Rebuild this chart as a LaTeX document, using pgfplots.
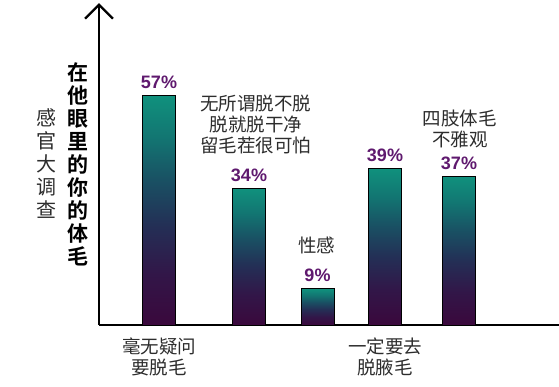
\documentclass[border=0pt]{standalone}
\usepackage{pgfplots}
\pgfplotsset{compat=1.18}
\usetikzlibrary{arrows.meta}
\usepackage{fontspec}
\setmainfont{Liberation Sans}
\newfontfamily\cjk{Noto Sans CJK SC}
\newfontfamily\cjkb{Noto Sans CJK SC Bold}
\definecolor{vlab}{RGB}{95,25,110}
\definecolor{gtxt}{RGB}{45,45,45}
\pgfdeclareverticalshading{barshade}{100bp}{%
  color(0bp)=(rgb,255:red,58;green,8;blue,60);
  color(25bp)=(rgb,255:red,58;green,8;blue,60);
  color(36bp)=(rgb,255:red,50;green,22;blue,72);
  color(47bp)=(rgb,255:red,35;green,48;blue,86);
  color(57bp)=(rgb,255:red,25;green,82;blue,100);
  color(66bp)=(rgb,255:red,18;green,118;blue,114);
  color(75bp)=(rgb,255:red,16;green,145;blue,125);
  color(100bp)=(rgb,255:red,16;green,145;blue,125)}
\begin{document}
\begin{tikzpicture}
\useasboundingbox (-99bp,-62bp) rectangle (460bp,325bp);
\begin{axis}[
  scale only axis,
  width=460bp, height=322bp,
  xmin=0, xmax=460, ymin=0, ymax=80,
  axis lines=left,
  axis line style={line width=2.3bp, black},
  x axis line style={-},
  y axis line style={-{Straight Barb[length=14bp,width=28bp,line width=2.3bp]}},
  ytick=\empty,
  xtick={60,286},
  xticklabels={{毫无疑问\\要脱毛},{一定要去\\脱腋毛}},
  major tick length=0pt,
  xticklabel style={font=\cjk\fontsize{18.5bp}{21bp}\selectfont, text=gtxt, align=center, yshift=-9bp},
  clip=false,
  /pgf/number format/assume math mode=true,
  mybar/.style={ybar, bar width=33, bar shift=0pt, draw=black, line width=0.8bp, shading=barshade,
    nodes near coords={\pgfmathprintnumber{\pgfplotspointmeta}\%},
    nodes near coords style={font=\bfseries\fontsize{18bp}{20bp}\selectfont, text=vlab, anchor=south, yshift=3bp}},
]
\addplot[mybar] coordinates {(60,57)};
\addplot[mybar] coordinates {(150,34)};
\addplot[mybar] coordinates {(218.5,9)};
\addplot[mybar] coordinates {(286,39)};
\addplot[mybar] coordinates {(360,37)};
\end{axis}
\begin{axis}[
  scale only axis, width=460bp, height=322bp,
  xmin=0, xmax=460, ymin=0, ymax=80, hide axis, clip=false]
\node[font=\cjk\fontsize{20bp}{23bp}\selectfont, text=gtxt, align=center] at (axis cs:-52,40) {感\\官\\大\\调\\查};
\node[font=\cjkb\fontsize{21bp}{23bp}\selectfont, text=black, align=center] at (axis cs:-21,40) {在\\他\\眼\\里\\的\\你\\的\\体\\毛};
\node[font=\cjk\fontsize{18.5bp}{21bp}\selectfont, text=gtxt, align=center] at (axis cs:157,49.8) {无所谓脱不脱\\脱就脱干净\\留毛茬很可怕};
\node[font=\cjk\fontsize{18.5bp}{21bp}\selectfont, text=gtxt, align=center] at (axis cs:218,19.8) {性感};
\node[font=\cjk\fontsize{18.5bp}{21bp}\selectfont, text=gtxt, align=center] at (axis cs:361,48.8) {四肢体毛\\不雅观};
\end{axis}
\end{tikzpicture}
\end{document}
